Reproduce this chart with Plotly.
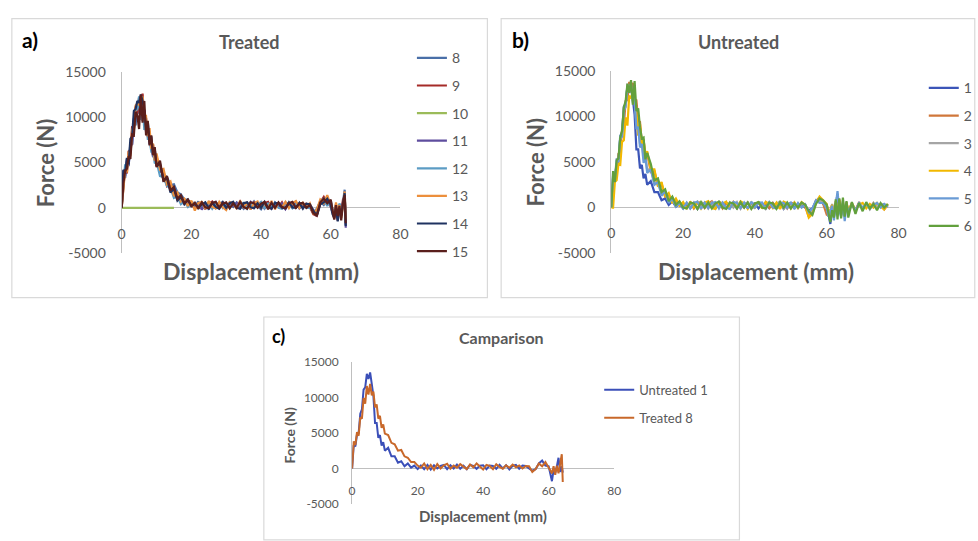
import plotly.graph_objects as go

W, H = 978, 541


def px(x):
    return x / W


def py(y):
    return 1 - y / H


FONT = "Lato"
GRAY = "#595959"
AXIS_GRAY = "#BFBFBF"

# ---------------- data (displacement in mm, force in N) ----------------
DISP_T = [0, 0.5, 1, 1.5, 2, 2.5, 3, 3.5, 4, 4.5, 5, 5.5, 6, 6.5, 7, 7.5, 8, 8.5, 9, 9.5, 10,
          11, 12, 13, 14, 15, 16, 17, 18, 19, 20,
          21, 22, 23, 24, 25, 26, 27, 28, 29, 30, 31,
          32, 33, 34, 35, 36, 37, 38, 39, 40, 41, 42,
          43, 44, 45, 46, 47, 48, 49, 50, 51, 52, 53,
          54, 55, 56, 57, 58, 59, 60, 60.5, 61, 61.5, 62, 62.5, 63, 63.5, 64, 64.3]

DISP_U = [0, 0.5, 1, 1.5, 2, 2.5, 3, 3.5, 4, 4.5, 5, 5.5, 6, 6.5, 7, 7.5, 8, 8.5, 9, 9.5, 10,
          11, 12, 13, 14, 15, 16, 17, 18, 19, 20,
          21, 22, 23, 24, 25, 26, 27, 28, 29, 30, 31,
          32, 33, 34, 35, 36, 37, 38, 39, 40, 41, 42,
          43, 44, 45, 46, 47, 48, 49, 50, 51, 52, 53,
          54, 55, 56, 57, 58, 59, 60, 60.5, 61, 61.5,
          62, 62.5, 63, 63.5, 64, 64.5, 65, 65.5, 66, 67,
          68, 69, 70, 71, 72, 73, 74, 75, 76, 77]

DISP_10 = [0, 15]

# Treated specimens
F_T8 = [0, 3800, 3300, 5100, 4600, 7200, 7000, 9900, 9100, 11600, 10400, 11900, 10300, 10800, 8600, 9000, 7000, 7400, 5700, 6200, 4900,
        4700, 3600, 3400, 2500, 2600, 1700, 1500, 900, 900, 400,
        100, 700, -100, 500, -200, 600, 0, 450, 650, -50, 400,
        100, 600, 250, -100, 550, 150, 700, 200, -150, 500, 350,
        -100, 600, 200, -50, 450, 100, 550, 150, 400, 0, 350,
        300, -500, -100, 700, 300, 900, 200, -300, -700, 300, -900, 400, -700, 600, 2000, -1900]
F_T9 = [0, 2400, 4500, 3800, 6300, 6100, 9000, 8800, 11200, 10400, 12200, 9800, 12600, 9600, 9900, 7800, 8400, 6400, 7000, 5300, 5700,
        4000, 4000, 2400, 2700, 1500, 1400, 700, 900, 300, 600,
        500, -100, 650, -150, 450, 700, 0, 350, 600, -100, 300,
        550, 0, 700, 100, 450, -150, 600, 250, 0, 500, 650,
        -50, 400, 100, 600, -100, 500, 200, 650, 0, 350, 450,
        100, -700, -900, 600, 1200, 500, 700, -300, -1200, -200, -1400, 300, -600, 900, 1100, -1500]
F_T10 = [0, 0]
F_T11 = [0, 4100, 3500, 5400, 4700, 6900, 7000, 9600, 10500, 11400, 11100, 12000, 9600, 10700, 8400, 8600, 7200, 7300, 5600, 6000, 4700,
         4600, 3300, 3000, 2000, 1900, 900, 1100, 400, 700, 200,
         0, 600, -200, 500, 100, 400, 650, 0, 300, -100, 600,
         200, 550, -50, 450, 100, 650, 0, 350, 500, -100, 400,
         600, 50, 300, 500, -150, 450, 100, 600, -50, 400, 200,
         400, -300, -700, 500, 700, 1200, 0, -500, -900, 400, -1200, -100, -900, 400, 1500, -2200]
F_T12 = [0, 3000, 4800, 4200, 5600, 6000, 8000, 8700, 10700, 10900, 12300, 9700, 11300, 8600, 9500, 7600, 7600, 6200, 6200, 4900, 5100,
         3500, 3400, 2400, 2200, 1100, 1300, 400, 700, 100, 500,
         550, -50, 450, 0, 600, -100, 400, 550, 0, 500, -50,
         600, 0, 450, 550, -100, 500, 100, 350, 650, -50, 450,
         100, 550, 0, -100, 600, 450, -50, 400, 500, 550, 0,
         0, -400, -500, 700, 1000, 200, 800, -200, -600, -200, -1100, 500, -200, 100, 800, -1600]
F_T13 = [0, 2200, 4200, 3900, 6200, 5700, 8600, 8500, 11300, 11500, 11400, 11100, 12300, 10000, 10100, 7900, 8800, 6500, 7100, 5200, 6000,
         4200, 4300, 2600, 2900, 1300, 1700, 700, 1000, 200, 800,
         -300, 550, 650, -100, 750, 100, -50, 650, 50, -250, 600,
         500, -100, 750, 0, 600, -150, 500, 700, -50, 550, 0,
         750, -150, 550, 50, 650, -50, 500, 750, 0, 550, 100,
         500, -600, -200, 900, 500, 1400, 0, -400, -800, 600, -600, 300, -1100, 700, 1800, -1200]
F_T14 = [0, 4200, 3800, 5500, 4800, 7600, 7900, 10700, 10900, 11800, 11600, 12500, 11800, 10700, 8900, 9500, 7300, 7900, 5900, 6500, 4600,
         4900, 3000, 3300, 1700, 2100, 800, 1200, 400, 900, 200,
         450, 100, 350, 600, -50, 550, 100, -100, 600, 0, 500,
         650, 0, -100, 500, 600, 50, -50, 500, 0, 650, 50,
         -100, 550, 500, 0, -50, 600, 50, 0, 550, -100, 450,
         400, -300, -900, 400, 600, 1000, 300, -700, -1100, 100, -1500, -100, -800, 500, 1600, -2000]
F_T15 = [0, 2700, 4100, 4300, 5700, 5400, 8100, 8000, 10600, 10200, 8700, 12500, 9400, 11800, 8000, 9600, 6900, 8000, 5800, 6700, 4500,
         5200, 2900, 3500, 1900, 2300, 1000, 1400, 500, 900, 200,
         550, -100, 600, 50, -50, 550, 650, 0, 450, 600, -50,
         500, 0, 650, 100, -100, 600, 500, 0, 450, 650, -150,
         550, 0, 600, 100, -50, 500, 650, 0, 450, 550, 0,
         300, -600, -800, 600, 1000, 500, 900, -200, -1300, 300, -900, 200, -1400, 400, 1400, -1700]

# Untreated specimens
F_U1 = [0, 3300, 3100, 4800, 5000, 7700, 8300, 11100, 11400, 13300, 12600, 13500, 11900, 10200, 6400, 6400, 4300, 4700, 3200, 3700, 2500,
        2900, 1700, 1700, 800, 1000, 300, 700, 100, 400, -100,
        400, -100, 500, -150, 450, 0, 350, 500, -100, 450, 0,
        550, -50, 400, -100, 500, 350, -50, 400, 450, -100, 400,
        350, -50, 500, 0, 450, -150, 350, 500, -50, 400, 350,
        0, -300, -100, 700, 1100, 400, 300, -700, -1800, -200, -600, 300, 1500, -500, 300, -600]
F_U2 = [0, 1900, 3800, 4100, 5900, 6100, 8600, 9000, 11700, 11800, 13800, 12900, 13700, 11900, 11800, 9500, 9400, 7200, 7400, 5700, 6000,
        3900, 4000, 2400, 2600, 1200, 1400, 600, 800, 200, 500,
        0, 550, -100, 500, 600, -50, 450, 700, 0, 500, -100,
        550, 50, 600, -50, 500, 0, 550, -100, 450, 500, 0,
        600, -50, 500, 50, 0, 550, -100, 500, 450, -50, 500,
        100, -1000, -500, 800, 900, 400, -800, -900, -200, 300,
        -1000, 700, -400, 900, -800, 500, -500, 600, -400, 500,
        -300, 600, -200, 400, -100, 500, 0, 400, -200, 300]
F_U3 = [0, 3500, 3300, 4800, 5300, 7500, 8000, 10900, 11000, 13500, 13400, 13200, 11600, 11600, 9300, 9300, 7000, 7400, 5400, 5800, 4100,
        4300, 2700, 2900, 1500, 1700, 700, 1100, 200, 600, 100,
        500, 0, 550, -100, 600, 400, -100, 550, 0, 650, 400,
        -50, 550, 0, 600, -150, 450, 550, -50, 0, 600, 450,
        -150, 550, 0, 450, 650, -100, 500, 0, 550, -50, 450,
        300, -600, -300, 600, 700, 700, 0, -900, -500, 400,
        -800, 300, -500, 600, -900, 700, -600, 400, -500, 300,
        -400, 500, -100, 400, -200, 500, 0, 300, 400, 0]
F_U4 = [0, 0, 2800, 3000, 4800, 4700, 7200, 7400, 9900, 9000, 12300, 12000, 12600, 11400, 10400, 7900, 9200, 6800, 7500, 5600, 6200,
        4200, 4200, 2300, 2800, 1200, 1600, 500, 1000, 200, 600,
        -150, 650, 0, 600, -100, 550, 700, -50, -150, 600, 450,
        650, -100, 550, 0, 700, 450, -150, 550, 0, 650, -100,
        600, 450, -50, 550, -150, 650, 450, -100, 550, 0, 600,
        300, -1100, -700, 500, 1200, 800, 400, -700, -300, 300,
        -900, 400, -200, 800, -600, 400, -800, 500, -300, 400,
        -200, 300, 500, -100, 400, 0, 500, 100, -200, 400]
F_U5 = [0, 3800, 3100, 5400, 5000, 8000, 7700, 10600, 11200, 13300, 13000, 13600, 11800, 11900, 8600, 8900, 6600, 7000, 4900, 5600, 3800,
        4200, 2500, 2800, 1300, 1800, 500, 1000, 100, 500, -100,
        550, -100, 500, 650, -150, 550, -50, 500, 600, -100, 550,
        0, -150, 600, 500, -50, 550, -100, 650, 0, 500, 550,
        -150, 600, 0, -100, 550, 500, -50, 600, -150, 500, 0,
        350, -500, -100, 800, 500, 500, -100, -1000, -400, 200,
        -1400, 600, 1800, -300, -1000, 500, -1500, 300, -500, 400,
        -300, 500, 0, 400, -100, 300, 500, 0, 400, 100]
F_U6 = [0, 4000, 2800, 5200, 5400, 7700, 8400, 11000, 11700, 13600, 12600, 14000, 11300, 13900, 10600, 10900, 8800, 7600, 7700, 5300, 6000,
        4800, 3000, 3200, 1700, 2000, 700, 1200, 300, 700, 0,
        -100, 550, 450, -150, 600, 0, 550, -100, 450, 650, 0,
        -150, 550, 450, -100, 600, 0, 550, -150, 450, 600, 0,
        -100, 550, 450, -150, 600, 0, 550, -100, 450, 0, 550,
        300, -400, -800, 400, 1000, 800, 300, -600, -1600, -300,
        -1100, 900, -1300, 1000, -1200, 1100, -1000, 700, -1100, 600,
        -700, 500, -400, 600, -100, 400, -300, 500, 0, 400]

TREATED_NAMES = ["8", "9", "10", "11", "12", "13", "14", "15"]
TREATED_X = [DISP_T, DISP_T, DISP_10, DISP_T, DISP_T, DISP_T, DISP_T, DISP_T]
TREATED_Y = [F_T8, F_T9, F_T10, F_T11, F_T12, F_T13, F_T14, F_T15]
TREATED_COLORS = ["#4A6FA8", "#A52B28", "#9BBB59", "#5E4D9E", "#5C9CC4", "#EC8F3C", "#1F3260", "#5A1F1C"]

UNTREATED_NAMES = ["1", "2", "3", "4", "5", "6"]
UNTREATED_X = [DISP_T, DISP_U, DISP_U, DISP_U, DISP_U, DISP_U]
UNTREATED_Y = [F_U1, F_U2, F_U3, F_U4, F_U5, F_U6]
UNTREATED_COLORS = ["#3B55B8", "#D0773A", "#A5A5A5", "#F2B800", "#6A9BD5", "#62A03D"]

COMP_NAMES = ["Untreated 1", "Treated 8"]
COMP_X = [DISP_T, DISP_T]
COMP_Y = [F_U1, F_T8]
COMP_COLORS = ["#3B4FB8", "#C8682A"]

Y_TICKS = [-5000, 0, 5000, 10000, 15000]
Y_TICK_TEXT = ["-5000", "0", "5000", "10000", "15000"]
X_TICKS = [0, 20, 40, 60, 80]
X_TICK_TEXT = ["0", "20", "40", "60", "80"]

for xs, ys in zip(TREATED_X + UNTREATED_X, TREATED_Y + UNTREATED_Y):
    if len(xs) != len(ys):
        raise ValueError("length mismatch %d %d" % (len(xs), len(ys)))

fig = go.Figure()


def add_series(names, xs, ys, colors, axis_suffix, legend, width, prefix):
    for n, x, y, c in zip(names, xs, ys, colors):
        fig.add_trace(go.Scatter(
            x=x, y=y, mode="lines", name=n,
            line=dict(color=c, width=width),
            xaxis="x" + axis_suffix, yaxis="y" + axis_suffix,
            legend=legend, legendgroup=prefix + n,
            hoverinfo="skip",
        ))


add_series(TREATED_NAMES, TREATED_X, TREATED_Y, TREATED_COLORS, "", "legend", 2.2, "t")
add_series(UNTREATED_NAMES, UNTREATED_X, UNTREATED_Y, UNTREATED_COLORS, "2", "legend2", 2.2, "u")
add_series(COMP_NAMES, COMP_X, COMP_Y, COMP_COLORS, "3", "legend3", 2, "c")


def xaxis(x0, x1, label_y, size):
    return dict(domain=[px(x0), px(x1)], range=[0, 80], anchor="free", position=py(label_y),
                showgrid=False, zeroline=False, showline=False, ticks="",
                tickvals=X_TICKS, ticktext=X_TICK_TEXT,
                tickfont=dict(family=FONT, size=size, color=GRAY), fixedrange=True)


def yaxis(y_bottom, y_top, anchor, size, ticklen):
    return dict(domain=[py(y_bottom), py(y_top)], range=[-5000, 15000], anchor=anchor,
                showgrid=False, zeroline=True, zerolinecolor=AXIS_GRAY, zerolinewidth=1,
                showline=True, linecolor=AXIS_GRAY, linewidth=1,
                ticks="outside", ticklen=ticklen, tickcolor="rgba(0,0,0,0)",
                tickvals=Y_TICKS, ticktext=Y_TICK_TEXT,
                tickfont=dict(family=FONT, size=size, color=GRAY), fixedrange=True)


def legend(x, y, size, gap):
    return dict(x=px(x), y=py(y), xanchor="left", yanchor="top",
                font=dict(family=FONT, size=size, color=GRAY),
                bgcolor="rgba(0,0,0,0)", borderwidth=0,
                traceorder="grouped", tracegroupgap=gap, itemwidth=30)


def ann(text, x, y, size, color=GRAY, bold=True, angle=0):
    t = "<b>%s</b>" % text if bold else text
    return dict(text=t, x=px(x), y=py(y), xref="paper", yref="paper",
                xanchor="center", yanchor="middle", showarrow=False, textangle=angle,
                font=dict(family=FONT, size=size, color=color))


def frame(x0, y0, x1, y1):
    return dict(type="rect", xref="paper", yref="paper",
                x0=px(x0), x1=px(x1), y0=py(y1), y1=py(y0),
                line=dict(color="#D9D9D9", width=1.2), fillcolor="rgba(0,0,0,0)", layer="below")


fig.update_layout(
    width=W, height=H,
    margin=dict(l=0, r=0, t=0, b=0),
    paper_bgcolor="white", plot_bgcolor="white",
    showlegend=True,
    xaxis=xaxis(120, 404.3, 222, 14),
    yaxis=yaxis(252, 65, "x", 14, 12),
    xaxis2=xaxis(619.3, 912.3, 221, 14),
    yaxis2=yaxis(252, 64, "x2", 14, 12),
    xaxis3=xaxis(355, 622.3, 488, 12),
    yaxis3=yaxis(511, 364.3, "x3", 12, 10),
    legend=legend(416, 34.4, 14, 6.4),
    legend2=legend(938, 65.4, 14, 6.4),
    legend3=legend(607, 377.7, 13, 8.1),
    shapes=[frame(8, 10, 493, 298), frame(507, 10, 990, 298), frame(265, 318, 750, 548)],
    annotations=[
        ann("a)", 27, 31, 21, color="black"),
        ann("Treated", 250, 34, 18),
        ann("Force (N)", 42, 159, 22, angle=-90),
        ann("Displacement (mm)", 262, 271, 23),
        ann("b)", 527, 31, 21, color="black"),
        ann("Untreated", 749, 34, 18),
        ann("Force (N)", 542, 158, 22, angle=-90),
        ann("Displacement (mm)", 767, 270, 23),
        ann("c)", 280, 338, 18, color="black"),
        ann("Camparison", 507, 339, 16),
        ann("Force (N)", 291, 440, 14, angle=-90),
        ann("Displacement (mm)", 488, 523, 15),
    ],
)

fig.write_html("out.html",
               post_script="document.body.style.margin='0';document.body.style.overflow='hidden';")
